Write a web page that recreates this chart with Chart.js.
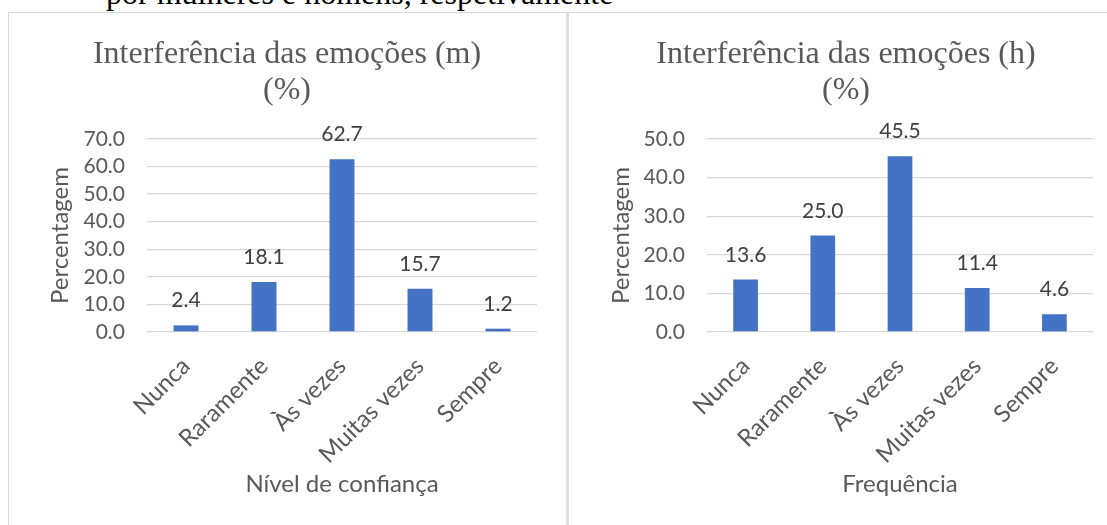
<!doctype html>
<html lang="pt">
  <head>
    <meta charset="utf-8">
    <title>Interferência das emoções</title>
    <style>
      * { margin: 0; padding: 0; }
      body { width: 1107px; height: 525px; background: #fff; position: relative; overflow: hidden; }
      #caption {
        position: absolute; left: 106px; top: -25px;
        font-family: "Liberation Serif", serif; font-size: 32px; color: #000;
        white-space: nowrap;
      }
      .line { position: absolute; background: #d9d9d9; }
      canvas { position: absolute; top: 13px; }
      #chartM { left: 37px; }
      #chartH { left: 599px; }
    </style>
  </head>
  <body>
    <div id="caption">por mulheres e homens, respetivamente</div>
    <div class="line" style="left:8px; top:12px; width:1099px; height:1px;"></div>
    <div class="line" style="left:8px; top:12px; width:1px; height:513px;"></div>
    <div class="line" style="left:566px; top:12px; width:3px; height:513px; background:#dedede;"></div>
    <canvas id="chartM" width="528" height="512"></canvas>
    <canvas id="chartH" width="508" height="512"></canvas>

    <script src="https://cdn.jsdelivr.net/npm/chart.js/dist/chart.umd.min.js"></script>
    <script>
// data
const categories = ['Nunca', 'Raramente', 'Às vezes', 'Muitas vezes', 'Sempre'];
const valuesM = [2.4, 18.1, 62.7, 15.7, 1.2];
const valuesH = [13.6, 25.0, 45.5, 11.4, 4.6];
const yMaxM = 70;
const yMaxH = 50;
const titleM = ['Interferência das emoções (m)', '(%)'];
const titleH = ['Interferência das emoções (h)', '(%)'];
const xTitleM = 'Nível de confiança';
const xTitleH = 'Frequência';
const yTitle = 'Percentagem';

const sansFont = 'Lato';

// value labels above each bar
const barLabels = {
  id: 'barLabels',
  afterDatasetsDraw(chart) {
    const {ctx} = chart;
    const meta = chart.getDatasetMeta(0);
    const vals = chart.data.datasets[0].data;
    ctx.save();
    ctx.font = '21px ' + sansFont;
    ctx.fillStyle = '#404040';
    ctx.textAlign = 'center';
    ctx.textBaseline = 'alphabetic';
    meta.data.forEach((bar, i) => {
      ctx.fillText(vals[i].toFixed(1), bar.x, bar.y - 18);
    });
    ctx.restore();
  }
};

// yWidth: room for the y axis, padRight: gap right of the plot
function makeChart(id, title, xTitle, values, yMax, yWidth, padRight, yTitlePad) {
  return new Chart(document.getElementById(id), {
    type: 'bar',
    data: {
      labels: categories,
      datasets: [{
        data: values,
        backgroundColor: '#4472C4',
        categoryPercentage: 1,
        barPercentage: 0.32
      }]
    },
    options: {
      responsive: false,
      animation: false,
      layout: { padding: { left: 0, right: padRight, top: 0, bottom: 0 } },
      plugins: {
        legend: { display: false },
        tooltip: { enabled: false },
        title: {
          display: true,
          text: title,
          color: '#595959',
          font: { family: 'Liberation Serif', size: 32, weight: 'normal', lineHeight: 1.125 },
          padding: { top: 24, bottom: 30 }
        }
      },
      scales: {
        x: {
          grid: { display: false },
          border: { display: false },
          ticks: {
            color: '#595959',
            font: { family: sansFont, size: 24 },
            minRotation: 45,
            maxRotation: 45,
            autoSkip: false,
            padding: 12
          },
          title: {
            display: true,
            text: xTitle,
            color: '#595959',
            font: { family: sansFont, size: 24 },
            padding: { top: 0, bottom: 26 }
          },
          afterFit(scale) { scale.height = 193; }
        },
        y: {
          min: 0,
          max: yMax,
          grid: { color: '#d9d9d9', lineWidth: 1.3, drawTicks: false },
          border: { display: false },
          ticks: {
            stepSize: 10,
            color: '#595959',
            font: { family: sansFont, size: 21, lineHeight: 1 },
            padding: 22,
            callback: v => v.toFixed(1)
          },
          title: {
            display: true,
            text: yTitle,
            color: '#595959',
            font: { family: sansFont, size: 24 },
            padding: { top: yTitlePad, bottom: 0 }
          },
          afterFit(scale) { scale.width = yWidth; }
        }
      }
    },
    plugins: [barLabels]
  });
}

makeChart('chartM', titleM, xTitleM, valuesM, yMaxM, 110, 28, 9);
makeChart('chartH', titleH, xTitleH, valuesH, yMaxH, 108, 14, 8);
    </script>
  </body>
</html>
